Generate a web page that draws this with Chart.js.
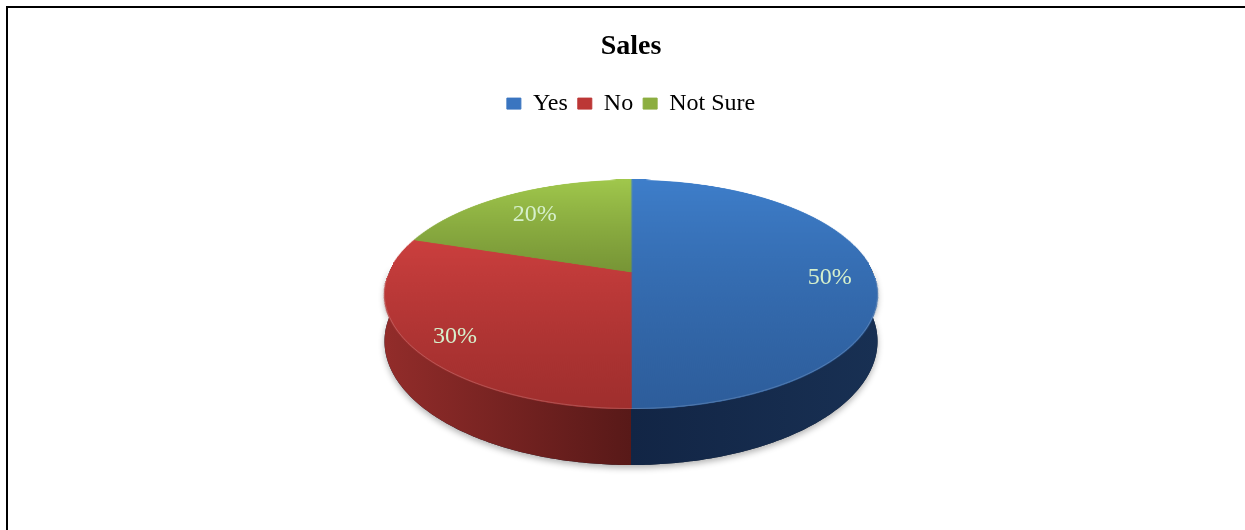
<!DOCTYPE html>
<html>
<head>
<meta charset="utf-8">
<title>Sales</title>
<script src="https://cdn.jsdelivr.net/npm/chart.js@4.4.1/dist/chart.umd.min.js"></script>
<style>
  html, body { margin: 0; padding: 0; background: #fff; overflow: hidden; }
  canvas { display: block; }
</style>
</head>
<body>
<canvas id="chart" width="1245" height="530"></canvas>
<script>
// ---- data ----
const categories = ['Yes', 'No', 'Not Sure'];
const shares = [50, 30, 20];          // percent of responses

// ---- styles ----
const SERIF = "'Liberation Serif', 'Times New Roman', serif";
const faceColors  = ['#3a75c0', '#bc3736', '#8cae40'];   // legend / base fill
const faceTop     = ['#3e7eca', '#cb3f3e', '#a0c74c'];   // lit far edge of each slice
const faceBottom  = ['#2d5d9b', '#9f2e2d', '#779536'];   // shaded near edge of each slice
const wallEdge    = ['#183053', '#922c2a', '#6a8830'];   // side wall, outer ends
const wallMid     = ['#122545', '#581918', '#4a5f20'];   // side wall, middle (front)
const labelColor  = '#d6f0cc';

// tilted-disc camera: apex position, half-sizes at the apex depth,
// perspective strength and extrusion height of the pie body
const VIEW = { cx: 631, cy: 272, sx: 241.7, sy: 110.08, persp: 0.1965, depth: 45 };
// centre of the projected outline (an ellipse, lower than the apex)
const OUTLINE_CY = VIEW.cy + VIEW.sy * VIEW.persp / (1 - VIEW.persp * VIEW.persp);

function proj(u, z) {
  const w = 1 - VIEW.persp * z;
  return { x: VIEW.cx + VIEW.sx * u / w, y: VIEW.cy + VIEW.sy * z / w, w };
}

function wallPath(ctx, a0, a1) {
  const n = Math.max(8, Math.ceil((a1 - a0) * 80));
  ctx.beginPath();
  for (let i = 0; i <= n; i++) {
    const phi = a0 + (a1 - a0) * i / n;
    const p = proj(Math.cos(phi), Math.sin(phi));
    i === 0 ? ctx.moveTo(p.x, p.y) : ctx.lineTo(p.x, p.y);
  }
  for (let i = n; i >= 0; i--) {
    const phi = a0 + (a1 - a0) * i / n;
    const p = proj(Math.cos(phi), Math.sin(phi));
    ctx.lineTo(p.x, p.y + VIEW.depth / p.w);
  }
  ctx.closePath();
}

const tiltedPie = {
  id: 'tiltedPie',
  beforeDraw(chart) {
    const ctx = chart.ctx;
    ctx.save();
    ctx.fillStyle = '#fff';
    ctx.fillRect(0, 0, chart.width, chart.height);
    // frame
    ctx.fillStyle = '#000';
    ctx.fillRect(6, 6, chart.width - 6, 2);
    ctx.fillRect(6, 6, 2, chart.height - 6);
    ctx.restore();
  },
  beforeDatasetsDraw(chart) {
    const ctx = chart.ctx;
    const arcs = chart.getDatasetMeta(0).data;
    const front0 = -0.25, front1 = Math.PI + 0.25;
    const left = VIEW.cx - VIEW.sx * 1.02, right = VIEW.cx + VIEW.sx * 1.02;

    ctx.save();
    // soft shadow under the pie body
    ctx.save();
    ctx.shadowColor = 'rgba(0,0,0,0.3)';
    ctx.shadowBlur = 6;
    ctx.shadowOffsetY = 3;
    ctx.fillStyle = '#1a2535';
    wallPath(ctx, -0.05, Math.PI + 0.05);
    ctx.fill();
    ctx.restore();

    // side walls of the visible (front) part of each slice
    arcs.forEach((arc, i) => {
      const a0 = Math.max(arc.startAngle, front0);
      const a1 = Math.min(arc.endAngle, front1);
      if (a1 <= a0) return;
      const g = ctx.createLinearGradient(left, 0, right, 0);
      g.addColorStop(0, wallEdge[i]);
      g.addColorStop(0.5, wallMid[i]);
      g.addColorStop(1, wallEdge[i]);
      ctx.fillStyle = g;
      wallPath(ctx, a0, a1);
      ctx.fill();
    });

    // top face: slices rendered flat by the library, then laid onto the tilted plane
    const RS = 300;
    const off = document.createElement('canvas');
    off.width = off.height = 2 * RS;
    const octx = off.getContext('2d');
    const tmp = document.createElement('canvas');
    tmp.width = tmp.height = 2 * RS;
    const tctx = tmp.getContext('2d');
    arcs.forEach((arc, i) => {
      tctx.setTransform(1, 0, 0, 1, 0, 0);
      tctx.clearRect(0, 0, 2 * RS, 2 * RS);
      const k = RS / arc.outerRadius;
      tctx.setTransform(k, 0, 0, k, RS - k * arc.x, RS - k * arc.y);
      arc.draw(tctx);
      tctx.setTransform(1, 0, 0, 1, 0, 0);
      let zmin = 0, zmax = 0;
      for (let t = 0; t <= 90; t++) {
        const phi = arc.startAngle + (arc.endAngle - arc.startAngle) * t / 90;
        const z = Math.sin(phi);
        zmin = Math.min(zmin, z); zmax = Math.max(zmax, z);
      }
      const g = tctx.createLinearGradient(0, RS + zmin * RS, 0, RS + zmax * RS);
      g.addColorStop(0, faceTop[i]);
      g.addColorStop(1, faceBottom[i]);
      tctx.globalCompositeOperation = 'source-atop';
      tctx.fillStyle = g;
      tctx.fillRect(0, 0, 2 * RS, 2 * RS);
      tctx.globalCompositeOperation = 'source-over';
      octx.drawImage(tmp, 0, 0);
    });

    ctx.imageSmoothingEnabled = true;
    ctx.imageSmoothingQuality = 'high';
    const zOf = (y) => { const dy = y - VIEW.cy; return dy / (VIEW.sy + VIEW.persp * dy); };
    const yTop = Math.floor(VIEW.cy - VIEW.sy / (1 + VIEW.persp));
    const yBot = Math.ceil(VIEW.cy + VIEW.sy / (1 - VIEW.persp));
    for (let y = yTop; y < yBot; y++) {
      const z0 = Math.max(-1, zOf(y)), z1 = Math.min(1, zOf(y + 1));
      if (z1 <= z0) continue;
      const zc = (z0 + z1) / 2;
      const half = VIEW.sx / (1 - VIEW.persp * zc);
      const s0 = RS + z0 * RS, s1 = RS + z1 * RS;
      ctx.drawImage(off, 0, s0, 2 * RS, Math.max(s1 - s0, 0.5), VIEW.cx - half, y, 2 * half, 1);
    }

    // faint rim where the top face meets the wall
    ctx.strokeStyle = 'rgba(255,255,255,0.16)';
    ctx.lineWidth = 1;
    ctx.beginPath();
    for (let i = 0; i <= 160; i++) {
      const phi = Math.PI * i / 160;
      const p = proj(Math.cos(phi), Math.sin(phi));
      i === 0 ? ctx.moveTo(p.x, p.y - 0.5) : ctx.lineTo(p.x, p.y - 0.5);
    }
    ctx.stroke();

    // percentage labels, placed inward from each slice's outer mid-point
    ctx.fillStyle = labelColor;
    ctx.font = '24px ' + SERIF;
    ctx.textAlign = 'center';
    ctx.textBaseline = 'middle';
    arcs.forEach((arc, i) => {
      const mid = (arc.startAngle + arc.endAngle) / 2;
      const p = proj(Math.cos(mid), Math.sin(mid));
      const lx = VIEW.cx + 0.81 * (p.x - VIEW.cx);
      const ly = OUTLINE_CY + 0.81 * (p.y - OUTLINE_CY);
      ctx.fillText(shares[i] + '%', lx + 3, ly + 1);
    });
    ctx.restore();
    return false;
  }
};

new Chart(document.getElementById('chart'), {
  type: 'pie',
  data: {
    labels: categories,
    datasets: [{
      data: shares,
      backgroundColor: faceColors,
      borderColor: faceColors,
      borderWidth: 1
    }]
  },
  options: {
    responsive: false,
    animation: false,
    devicePixelRatio: 1,
    events: [],
    layout: { padding: { left: 17 } },
    plugins: {
      title: {
        display: true,
        text: 'Sales',
        color: '#000',
        font: { family: SERIF, size: 28, weight: 'bold' },
        padding: { top: 30, bottom: 18 }
      },
      legend: {
        position: 'top',
        labels: {
          color: '#000',
          font: { family: SERIF, size: 24 },
          boxWidth: 14,
          boxHeight: 11,
          padding: 10
        }
      },
      tooltip: { enabled: false }
    }
  },
  plugins: [tiltedPie]
});
</script>
</body>
</html>
